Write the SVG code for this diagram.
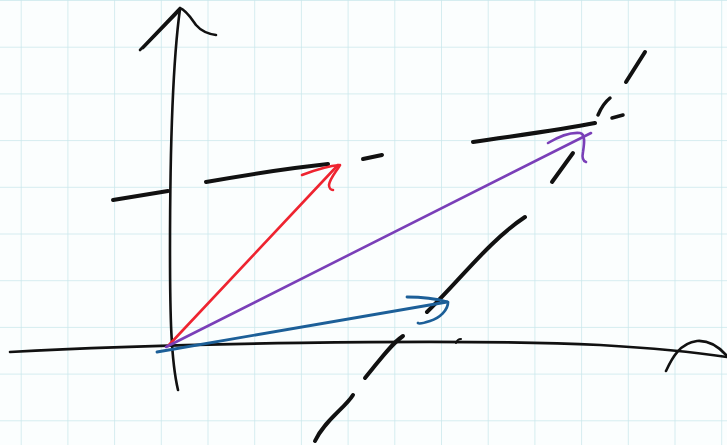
<svg xmlns="http://www.w3.org/2000/svg" width="727" height="445" viewBox="0 0 727 445">
<defs>
<pattern id="grid" x="20.7" y="0" width="46.7" height="46.7" patternUnits="userSpaceOnUse">
<path d="M0,0 V46.7 M0,0 H46.7" fill="none" stroke="#c9e7ec" stroke-width="1.5"/>
</pattern>
</defs>
<style>
.ink{fill:none;stroke:#111;stroke-linecap:round;stroke-linejoin:round}
.ax{stroke-width:2.6}
.dash{stroke-width:4}
.red{fill:none;stroke:#ee2430;stroke-width:2.6;stroke-linecap:round;stroke-linejoin:round}
.purple{fill:none;stroke:#7a3fb8;stroke-width:2.6;stroke-linecap:round;stroke-linejoin:round}
.blue{fill:none;stroke:#1c5f98;stroke-width:2.8;stroke-linecap:round;stroke-linejoin:round}
</style>
<rect width="727" height="445" fill="#fbfefe"/>
<rect width="727" height="445" fill="url(#grid)"/>
<g id="axes">
<path class="ink ax" d="M180,9 C173,60 170,150 170,250 C170,315 171,360 178,390"/>
<path class="ink ax" d="M140,50 L180,8 M143,48 L178,12 M180,8 C186,10 191,18 196,25 C202,32 209,34 216,35"/>
<path class="ink ax" d="M10,352 C150,344 450,338 600,345 C650,348 700,353 727,357"/>
<path class="ink ax" d="M666,371 C672,358 680,343 697,341 C710,340 720,348 727,356"/>
<path class="ink" stroke-width="2" d="M456,343 C457,340 459,339 461,339"/>
</g>
<g id="guides">
<path class="ink dash" d="M113,200 L168,191"/>
<path class="ink dash" d="M206,182 C240,176 290,168 328,164"/>
<path class="ink dash" d="M363,159 L382,155"/>
<path class="ink dash" d="M473,142 C520,135 560,130 595,123" stroke-width="3.2"/>
<path class="ink dash" d="M315,441 C325,420 345,408 353,395"/>
<path class="ink dash" d="M365,378 C380,360 390,345 403,336"/>
<path class="ink dash" d="M427,312 C460,280 490,240 525,217"/>
<path class="ink dash" d="M552,182 L573,153"/>
<path class="ink" stroke-width="3.5" d="M598,115 C601,108 605,102 610,98"/>
<path class="ink" stroke-width="3.5" d="M612,118 L623,115"/>
<path class="ink dash" d="M626,82 L645,52"/>
</g>
<g id="vectors">
<g id="red-vector">
<path class="red" d="M168,346 L338,165"/>
<path class="red" d="M302,175 C315,170 328,166 340,165 C336,172 330,178 329,185 C329,188 331,190 333,190"/>
</g>
<g id="purple-vector">
<path class="purple" d="M166,347 L591,133"/>
<path class="purple" d="M548,143 C558,137 570,132 580,133 C586,134 584,145 583,152 C582,157 583,161 586,162"/>
</g>
<g id="blue-vector">
<path class="blue" d="M157,352 L447,302"/>
<path class="blue" d="M407,297 C420,297 437,299 448,302 C448,310 440,318 430,321 C424,323 419,324 418,323"/>
</g>
</g>
</svg>
